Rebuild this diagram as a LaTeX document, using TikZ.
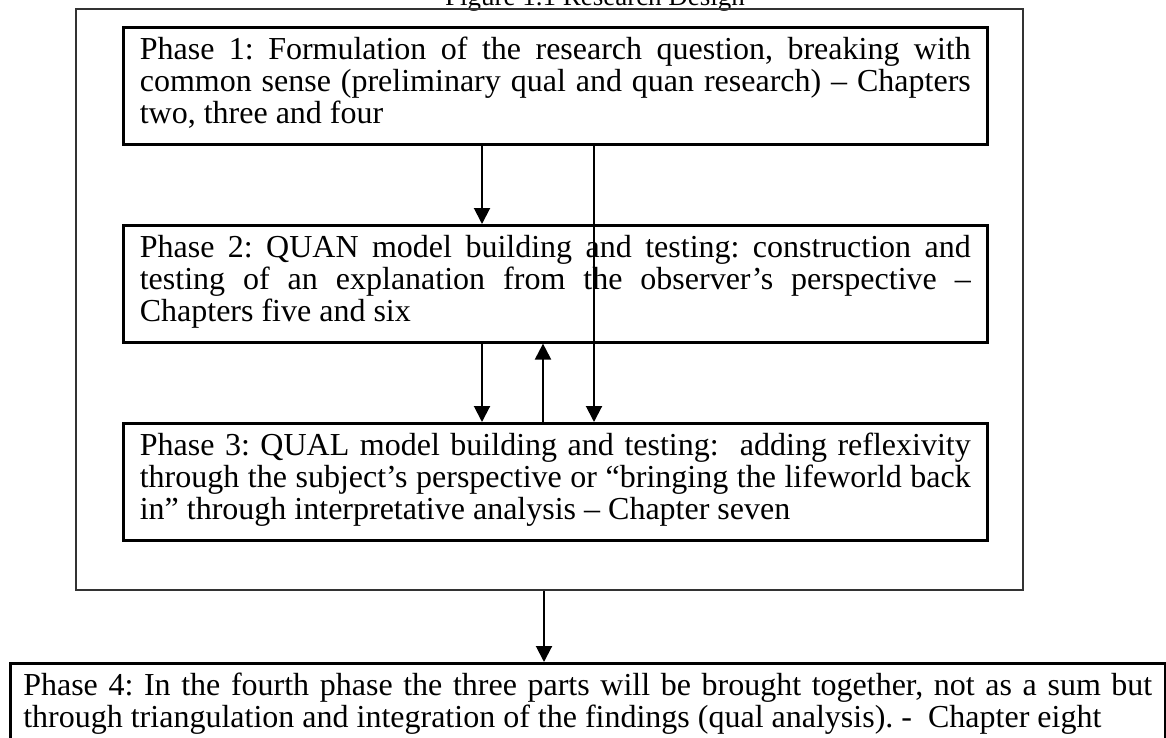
\documentclass[tikz,border=0pt]{standalone}
\usepackage{fontspec}
\setmainfont{Liberation Serif}
\usetikzlibrary{arrows.meta,calc}
\frenchspacing

% body of a phase box: a stack of lines with a fixed 32pt line pitch
\newcommand\phasebody[2]{\vtop{\hsize=#1\parindent=0pt\baselineskip=32pt\lineskiplimit=-\maxdimen #2}}
% a justified line (spaces stretched to the full width) and a ragged last line
\newcommand\phjust[1]{\hbox to\hsize{#1}}
\newcommand\phlast[1]{\hbox{#1}}
% struts fixing the space above the first baseline and below the last one
\newcommand\phtop{\vrule height32pt width0pt\relax}
\newcommand\phbot{\vrule depth21pt width0pt\relax}

\begin{document}
\begin{tikzpicture}[x=1pt,y=-1pt,
  phasebox/.style={draw=black, line width=2.6pt, inner xsep=16.5pt, inner ysep=0pt,
    anchor=north west, font=\fontsize{32}{32}\selectfont},
  framebox/.style={draw=black!80, line width=2pt, inner sep=0pt, anchor=north west},
  link/.style={line width=2pt, -{Triangle[width=16pt,length=16pt]}},
  caption/.style={font=\fontsize{27}{27}\selectfont, anchor=base, inner sep=0pt}]

\useasboundingbox (0,0) rectangle (1166,738);

% heading, partly above the page edge
\node[caption] (title) at (595,6) {Figure 1.1 Research Design};

% frame around the first three phases
\node[framebox, minimum width=947pt, minimum height=581pt] (outer) at (75,8) {};

% phases
\node[phasebox] (p1) at (122,26) {\phasebody{831pt}{%
  \phjust{\phtop Phase 1: Formulation of the research question, breaking with}%
  \phjust{common sense (preliminary qual and quan research) – Chapters}%
  \phlast{two, three and four\phbot}}};

\node[phasebox] (p2) at (122,224) {\phasebody{831pt}{%
  \phjust{\phtop Phase 2: QUAN model building and testing: construction and}%
  \phjust{testing of an explanation from the observer’s perspective –}%
  \phlast{Chapters five and six\phbot}}};

\node[phasebox] (p3) at (122,422) {\phasebody{831pt}{%
  \phjust{\phtop Phase 3: QUAL model building and testing:\ \ adding reflexivity}%
  \phjust{through the subject’s perspective or “bringing the lifeworld back}%
  \phlast{in” through interpretative analysis – Chapter seven\phbot}}};

\node[phasebox, inner xsep=13pt] (p4) at (9,662) {\phasebody{1129pt}{%
  \phjust{\phtop Phase 4: In the fourth phase the three parts will be brought together, not as a sum but}%
  \phlast{through triangulation and integration of the findings (qual analysis). -\ \ Chapter eight\phbot}}};

% horizontal positions of the connectors
\coordinate (xa) at (482,0);
\coordinate (xb) at (594,0);
\coordinate (xc) at (543,0);
\coordinate (xd) at (544,0);

% connectors
\draw[link] (p1.south -| xa) -- (p2.north -| xa);
\draw[link] (p1.south -| xb) -- (p3.north -| xb);
\draw[link] (p2.south -| xa) -- (p3.north -| xa);
\draw[link] (p3.north -| xc) -- (p2.south -| xc);
\draw[link] (outer.south -| xd) -- (p4.north -| xd);

\end{tikzpicture}
\end{document}
